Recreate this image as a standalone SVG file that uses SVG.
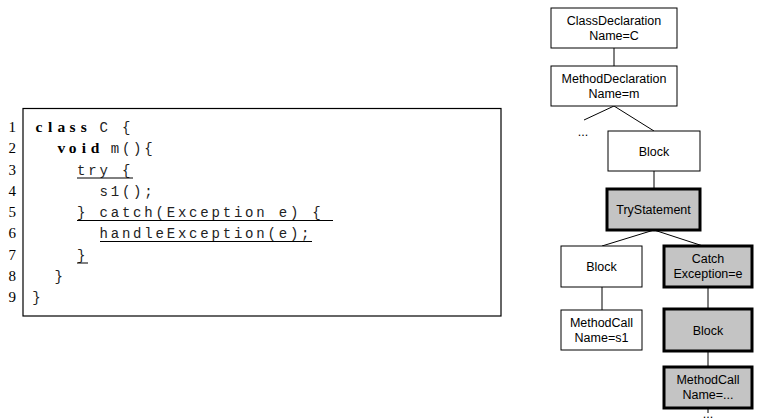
<svg xmlns="http://www.w3.org/2000/svg" width="757" height="420" viewBox="0 0 757 420">
<style>
.ln{font-family:"Liberation Serif","Times New Roman",serif;font-size:15px;fill:#000;text-anchor:end}
.kw{font-family:"Liberation Serif","Times New Roman",serif;font-size:15.5px;font-weight:bold;fill:#000;text-anchor:middle}
.code{font-family:"Liberation Mono","Courier New",monospace;font-size:14px;letter-spacing:2.8px;fill:#222}
.ul{stroke:#000;stroke-width:1}
.node rect{fill:#fff;stroke:#000;stroke-width:1}
.node.hl rect{fill:#c4c4c4;stroke:#000;stroke-width:3}
.node text{font-family:"Liberation Sans",Arial,sans-serif;font-size:12.5px;fill:#000;text-anchor:middle}
.edge{stroke:#000;stroke-width:1;fill:none}
.dots{font-family:"Liberation Sans",Arial,sans-serif;font-size:12.5px;fill:#000;text-anchor:middle}
</style>
<rect width="757" height="420" fill="#fff"/>
<g id="code">
<rect x="23" y="108.5" width="478" height="207.5" fill="#fff" stroke="#000" stroke-width="1.2"/>
<text class="ln" x="16" y="132">1</text>
<text class="ln" x="16" y="153.25">2</text>
<text class="ln" x="16" y="174.5">3</text>
<text class="ln" x="16" y="195.75">4</text>
<text class="ln" x="16" y="217">5</text>
<text class="ln" x="16" y="238.25">6</text>
<text class="ln" x="16" y="259.5">7</text>
<text class="ln" x="16" y="280.75">8</text>
<text class="ln" x="16" y="302">9</text>
<text class="kw" x="39 50.2 61.4 72.6 83.8" y="132">class</text>
<text class="code" x="99.5" y="132">C</text>
<text class="code" x="122" y="132">{</text>
<text class="kw" x="61.4 72.6 83.8 95" y="153.25">void</text>
<text class="code" x="110.7" y="153.25">m(){</text>
<text class="code" x="77" y="174.5">try</text>
<text class="code" x="122" y="174.5">{</text>
<text class="code" x="99.5" y="195.75">s1();</text>
<text class="code" x="77" y="217">}</text>
<text class="code" x="99.5" y="217">catch(Exception</text>
<text class="code" x="278.7" y="217">e)</text>
<text class="code" x="312.3" y="217">{</text>
<text class="code" x="99.5" y="238.25">handleException(e);</text>
<text class="code" x="77" y="259.5">}</text>
<text class="code" x="54.6" y="280.75">}</text>
<text class="code" x="32.2" y="302">}</text>
<line class="ul" x1="77" y1="178" x2="133" y2="178"/>
<line class="ul" x1="77" y1="220.5" x2="333" y2="220.5"/>
<line class="ul" x1="100" y1="241.5" x2="312" y2="241.5"/>
<line class="ul" x1="77" y1="263" x2="88" y2="263"/>
</g>
<g id="connectors">
<line class="edge" x1="614" y1="48" x2="614" y2="66"/>
<line class="edge" x1="614" y1="106" x2="584" y2="120"/>
<line class="edge" x1="614" y1="106" x2="654" y2="131"/>
<line class="edge" x1="654" y1="171" x2="654" y2="189"/>
<line class="edge" x1="654" y1="230" x2="602" y2="246"/>
<line class="edge" x1="654" y1="230" x2="703" y2="246"/>
<line class="edge" x1="602" y1="287" x2="602" y2="310"/>
<line class="edge" x1="708" y1="287" x2="708" y2="309"/>
<line class="edge" x1="708" y1="351" x2="708" y2="367"/>
<line class="edge" x1="708" y1="408" x2="708" y2="413"/>
</g>
<g id="n-classdecl" class="node"><rect x="551" y="8" width="126" height="40"/><text x="614" y="25">ClassDeclaration</text><text x="614" y="40">Name=C</text></g>
<g id="n-methoddecl" class="node"><rect x="551" y="66" width="126" height="40"/><text x="614" y="83">MethodDeclaration</text><text x="614" y="98">Name=m</text></g>
<text id="n-dots1" class="dots" x="583" y="136">...</text>
<g id="n-block1" class="node"><rect x="608" y="131" width="92" height="40"/><text x="654" y="155.5">Block</text></g>
<g id="n-try" class="node hl"><rect x="607" y="189" width="93" height="41"/><text x="653.5" y="214">TryStatement</text></g>
<g id="n-block2" class="node"><rect x="561" y="246" width="81" height="41"/><text x="601.5" y="271">Block</text></g>
<g id="n-catch" class="node hl"><rect x="664" y="246" width="88" height="41"/><text x="708" y="263">Catch</text><text x="708" y="278">Exception=e</text></g>
<g id="n-call1" class="node"><rect x="561" y="310" width="81" height="40"/><text x="601.5" y="327">MethodCall</text><text x="601.5" y="342">Name=s1</text></g>
<g id="n-block3" class="node hl"><rect x="664" y="309" width="88" height="42"/><text x="708" y="334.5">Block</text></g>
<g id="n-call2" class="node hl"><rect x="664" y="367" width="88" height="41"/><text x="708" y="384">MethodCall</text><text x="708" y="399">Name=...</text></g>
<text id="n-dots2" class="dots" x="708" y="418">...</text>
</svg>
